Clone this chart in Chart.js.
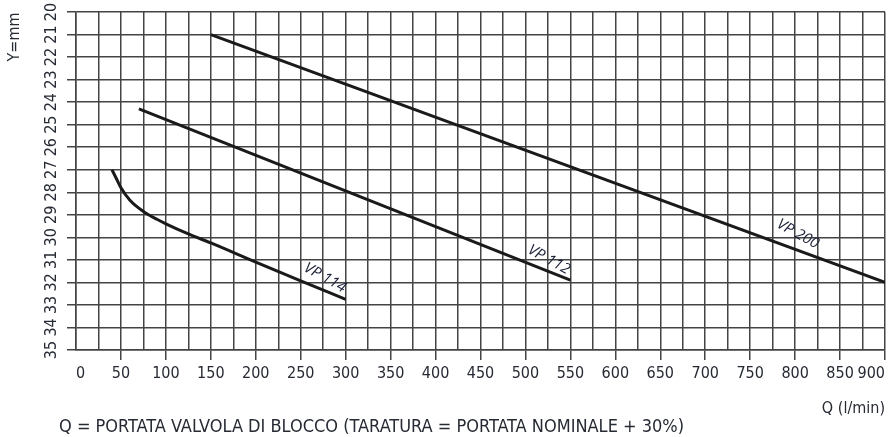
<!DOCTYPE html>
<html>
<head>
<meta charset="utf-8">
<script src="https://cdn.jsdelivr.net/npm/chart.js@4/dist/chart.umd.min.js"></script>
<style>
  html, body { margin: 0; padding: 0; background: #fff; }
  #wrap { width: 892px; height: 437px; position: relative; }
</style>
</head>
<body>
<div id="wrap"><canvas id="chartValve"></canvas></div>
<script>
// flow Q (l/min) vs Y (mm)
const vp200Q = [150, 900];
const vp200Y = [21, 32];
const vp112Q = [70, 550];
const vp112Y = [24.3, 31.9];
const vp114Q = [40, 45, 50, 60, 75, 90, 100, 125, 150, 200, 250, 300];
const vp114Y = [27, 27.4, 27.8, 28.35, 28.85, 29.2, 29.4, 29.85, 30.25, 31.1, 31.93, 32.75];

// curve names and where they sit (data units)
const curveNames = ["VP 114", "VP 112", "VP 200"];
const nameQ = [277, 526, 803];
const nameY = [31.8, 31.0, 29.85];

const xTickStep = 25;
const xLabelStep = 50;
const yTitle = "Y=mm";
const caption = "Q = PORTATA VALVOLA DI BLOCCO (TARATURA = PORTATA NOMINALE + 30%)";

const ink = "#1a1a1a";
const gridColor = "#444";
const textColor = "#262a33";
const narrow = "'Liberation Sans Narrow', 'Arial Narrow', 'DejaVu Sans Condensed', sans-serif";

const toPoints = (qs, ys) => qs.map((q, i) => ({ x: q, y: ys[i] }));

const curveLabels = {
  id: "curveLabels",
  afterDatasetsDraw(chart) {
    const { ctx, scales: { x, y } } = chart;
    ctx.save();
    ctx.fillStyle = "#1c2238";
    ctx.font = "italic 15px 'Open Sans', sans-serif";
    ctx.textAlign = "center";
    ctx.textBaseline = "middle";
    curveNames.forEach((name, i) => {
      ctx.save();
      ctx.translate(x.getPixelForValue(nameQ[i]), y.getPixelForValue(nameY[i]));
      ctx.rotate(29 * Math.PI / 180);
      ctx.fillText(name, 0, 0);
      ctx.restore();
    });
    ctx.restore();
  }
};

// the caption under the axis and the rotated Y title
const extraText = {
  id: "extraText",
  afterDraw(chart) {
    const { ctx } = chart;
    ctx.save();
    ctx.fillStyle = textColor;
    ctx.font = "18px " + narrow;
    ctx.textAlign = "left";
    ctx.textBaseline = "middle";
    ctx.fillText(caption, 59, 427);
    ctx.translate(15, 37);
    ctx.rotate(-Math.PI / 2);
    ctx.font = "16px " + narrow;
    ctx.textAlign = "center";
    ctx.fillText(yTitle, 0, 0);
    ctx.restore();
  }
};

new Chart(document.getElementById("chartValve"), {
  type: "line",
  data: {
    datasets: [
      { label: "VP 114", data: toPoints(vp114Q, vp114Y), cubicInterpolationMode: "monotone" },
      { label: "VP 112", data: toPoints(vp112Q, vp112Y) },
      { label: "VP 200", data: toPoints(vp200Q, vp200Y) }
    ]
  },
  options: {
    responsive: true,
    maintainAspectRatio: false,
    animation: false,
    layout: { padding: { top: 12, right: 7, bottom: 0, left: 0 } },
    elements: {
      line: { borderColor: ink, borderWidth: 3, fill: false },
      point: { radius: 0 }
    },
    plugins: { legend: { display: false }, tooltip: { enabled: false } },
    scales: {
      x: {
        type: "linear",
        min: 0,
        max: 900,
        afterFit: s => { s.height = 87; s.paddingLeft = 0; s.paddingRight = 0; },
        grid: {
          color: gridColor,
          lineWidth: 1.5,
          tickLength: 10,
          tickColor: c => (c.tick && c.tick.value % xLabelStep === 0 && c.tick.value > 0 ? gridColor : "rgba(0,0,0,0)")
        },
        border: { color: gridColor, width: 1.5 },
        ticks: {
          stepSize: xTickStep,
          autoSkip: false,
          maxRotation: 0,
          align: "inner",
          padding: 4,
          color: textColor,
          font: { family: narrow, size: 16 },
          callback: v => (v % xLabelStep === 0 ? String(v) : "")
        },
        title: {
          display: true,
          text: "Q (l/min)",
          align: "end",
          color: textColor,
          font: { family: narrow, size: 16 },
          padding: { top: 0, bottom: 19 }
        }
      },
      y: {
        type: "linear",
        reverse: true,
        min: 20,
        max: 35,
        afterFit: s => { s.width = 76; s.paddingTop = 0; s.paddingBottom = 0; },
        grid: { color: gridColor, lineWidth: 1.5, tickLength: 9 },
        border: { color: gridColor, width: 1.5 },
        ticks: {
          stepSize: 1,
          autoSkip: false,
          minRotation: 90,
          maxRotation: 90,
          crossAlign: "center",
          padding: 6,
          color: textColor,
          font: { family: narrow, size: 16 }
        }
      }
    }
  },
  plugins: [curveLabels, extraText]
});
</script>
</body>
</html>
